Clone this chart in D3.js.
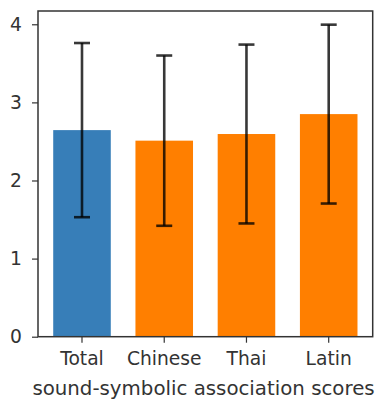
<!DOCTYPE html>
<html>
<head>
<meta charset="utf-8">
<script src="https://cdn.jsdelivr.net/npm/d3@7"></script>
<style>
  html, body { margin: 0; padding: 0; background: #fff; }
  svg { display: block; font-family: "DejaVu Sans", sans-serif; }
</style>
</head>
<body>
<script>
// Mean sound-symbolic association scores per script group, with standard deviations
const categories = ["Total", "Chinese", "Thai", "Latin"];
const means = [2.645, 2.51, 2.595, 2.85];
const sds = [1.115, 1.09, 1.145, 1.145];
const barColors = ["#377eb8", "#ff7f00", "#ff7f00", "#ff7f00"];
const yTicks = [0, 1, 2, 3, 4];
const yMax = 4.17;
const xLabel = "sound-symbolic association scores";

const W = 380, H = 402;
const plotLeft = 38, plotRight = 372.7, plotTop = 11, plotBottom = 336.7;

const svg = d3.select("body").append("svg")
  .attr("width", W).attr("height", H);

const x = d3.scaleBand()
  .domain(categories)
  .range([plotLeft, plotRight])
  .paddingInner(0.3)
  .paddingOuter(0.185);

const y = d3.scaleLinear()
  .domain([0, yMax])
  .range([plotBottom, plotTop]);

const data = categories.map((c, i) => ({ c, m: means[i], s: sds[i], col: barColors[i] }));

// bars
svg.append("g").selectAll("rect").data(data).join("rect")
  .attr("x", d => x(d.c))
  .attr("width", x.bandwidth())
  .attr("y", d => y(d.m))
  .attr("height", d => y(0) - y(d.m))
  .attr("fill", d => d.col);

// error bars
const cap = 8;
const eb = svg.append("g")
  .attr("stroke", "#000")
  .attr("stroke-opacity", 0.78)
  .attr("stroke-width", 2.6);
data.forEach(d => {
  const cx = x(d.c) + x.bandwidth() / 2;
  eb.append("line")
    .attr("x1", cx).attr("x2", cx)
    .attr("y1", y(d.m - d.s)).attr("y2", y(d.m + d.s));
  [d.m - d.s, d.m + d.s].forEach(v => {
    eb.append("line")
      .attr("x1", cx - cap).attr("x2", cx + cap)
      .attr("y1", y(v)).attr("y2", y(v));
  });
});

// axes
const fontSize = 18.7;
const yAxis = d3.axisLeft(y).tickValues(yTicks).tickFormat(d3.format("d"))
  .tickSize(6).tickPadding(10);
const gy = svg.append("g").attr("transform", `translate(${plotLeft},0)`).call(yAxis);
const xAxis = d3.axisBottom(x).tickSize(6).tickPadding(9);
const gx = svg.append("g").attr("transform", `translate(0,${plotBottom})`).call(xAxis);

[gx, gy].forEach(g => {
  g.select(".domain").remove();
  g.selectAll(".tick line").attr("stroke", "#333").attr("stroke-width", 1.2);
  g.selectAll(".tick text")
    .attr("fill", "#333")
    .style("font-size", fontSize + "px")
    .style("font-family", "'DejaVu Sans', sans-serif");
});

// frame
svg.append("rect")
  .attr("x", plotLeft).attr("y", plotTop)
  .attr("width", plotRight - plotLeft).attr("height", plotBottom - plotTop)
  .attr("fill", "none")
  .attr("stroke", "#333")
  .attr("stroke-width", 1.5);

// x axis label
svg.append("text")
  .attr("x", 203.5)
  .attr("y", 395)
  .attr("text-anchor", "middle")
  .attr("fill", "#333")
  .style("font-size", "19.8px")
  .text(xLabel);
</script>
</body>
</html>
